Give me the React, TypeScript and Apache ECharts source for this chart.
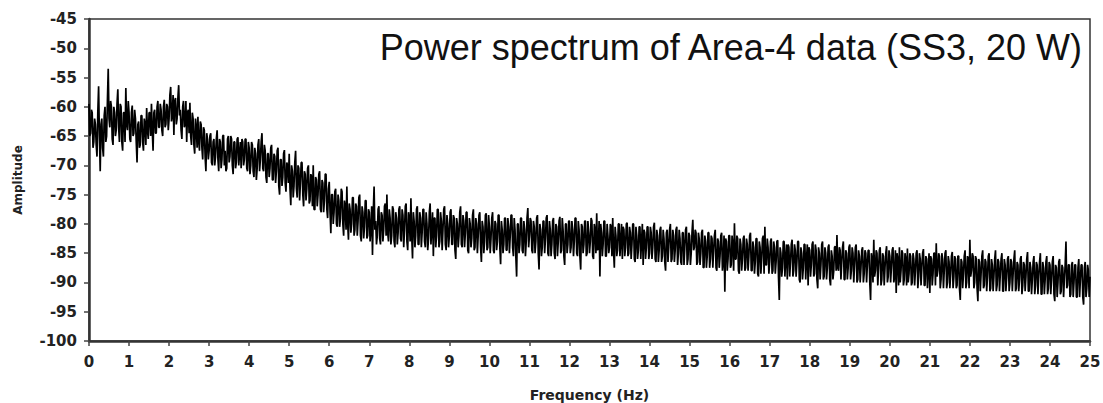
import React, { useEffect, useRef } from "react";
import * as echarts from "echarts";

const amp00to05 = [
  -59.5,-65,-64.5,-60.5,-61,-67,-66,-62,-63,-66.5,-68.5,-61,-56.5,-65,-71,-63,-62,-67,-68.5,-61.5,-60,-66,-65,-59,-53.5,-62,-63.5,-59,-60,-65.5,-66.5,-60,-61,-65,-64,-59.5,-57,-63.5,-66,-59.5,-60,-66,-67.5,-61,-61,-66,-56.8,-63,-64,-59,
  -61,-65.5,-66,-61,-59.8,-65,-64.5,-60.5,-62,-66,-69.5,-63,-62.5,-67,-66.5,-61.5,-61.5,-66,-67.5,-62,-63,-66.5,-60.2,-64,-65.5,-61,-61,-65,-59.5,-64,-67.5,-61,-60.5,-64.5,-64.5,-60,-59,-63.5,-63.5,-59.5,-60.5,-64,-65,-60,-58.8,-63.5,-63,-59.5,-60,-64,
  -62,-58,-56.6,-62.5,-61.5,-58,-64.8,-59,-58.5,-63,-62,-58.5,-56.3,-61.5,-60.5,-64,-65.5,-60,-59,-63.5,-63,-59,-66,-61,-60.5,-64.5,-59.3,-65,-66.5,-61,-62,-66.5,-68,-62,-63.5,-67,-61.7,-66,-67.5,-62.5,-63,-67,-69,-63.5,-64,-68.5,-71,-64.5,-65.5,-69,
  -67.5,-65,-64.5,-69.5,-70,-66,-65.5,-70,-68.5,-65.5,-64,-69,-71,-65.5,-66,-70.5,-69,-65,-64.8,-70,-67.5,-71,-70.5,-65.5,-65,-69.5,-68.5,-65,-65.5,-70,-71.5,-66,-66,-70.5,-69.5,-65.5,-65.2,-70,-68,-66,-70.5,-65.5,-66,-70,-69,-65.5,-65.5,-70.5,-71,-66,
  -67,-71.5,-70,-66,-66.5,-71,-72,-67,-68,-72.5,-70.5,-66.5,-65.5,-71,-69,-66,-64.5,-70.5,-71,-66.5,-67.5,-72,-73,-68,-68,-72,-70.5,-67,-66.5,-72.5,-72.5,-68,-68.5,-73,-71,-67.5,-67,-73.5,-75,-69,-69,-73.5,-72,-68,-67.4,-73,-74.5,-69.5,-70,-73,
];
const amp05to10 = [
  -68,-74,-76.8,-70,-71,-75.5,-73.5,-69.5,-67.5,-74,-75.5,-70,-70.5,-76,-73,-69.5,-69.5,-75,-77,-71,-71.5,-76,-74,-70.5,-70,-76.5,-76,-71.5,-72,-77,-70,-77.5,-77.6,-72,-72.5,-77,-75,-71.5,-71,-77.5,-78,-72.5,-73,-78,-76,-71.5,-71.5,-77.5,-79,-74,
  -72.8,-78,-81.6,-75,-75,-80,-78,-74.5,-74,-80,-80.5,-75,-76,-80.5,-79,-74,-74.5,-80,-82,-76,-77,-81,-73.6,-80,-82.7,-76.5,-77.5,-81.5,-80,-75.5,-75.5,-82,-81,-76.5,-77,-82,-79.5,-75.5,-75,-82,-83,-77,-78,-82.5,-80.5,-76,-76,-82.5,-82,-77.5,
  -78,-83,-81,-77,-85.3,-78,-73.6,-81,-79.5,-83.5,-82,-77.5,-77,-82.5,-83.5,-78,-78.5,-83,-81,-77,-76.5,-82,-75,-81.5,-83,-77.5,-79,-83.5,-82,-77,-77.5,-83,-84,-78,-79,-83.5,-81.5,-77.5,-77,-82.5,-83,-77.5,-78.5,-84,-81,-77,-76.5,-83,-84.5,-78,
  -79,-83,-75.6,-82,-85.9,-78,-79.5,-84,-82,-77.5,-77,-83.5,-83.5,-78,-79,-84,-81.5,-77.5,-77.5,-83,-84,-78,-80,-84.5,-82.5,-78,-76.5,-83.5,-81,-78,-85.5,-79,-79,-84,-82,-77.5,-77.5,-84,-83,-78,-79.5,-84.5,-81,-77.5,-77,-83.5,-84.5,-78.5,-80,-84,
  -82,-78,-77.5,-83.5,-83.5,-78.5,-79,-84.5,-86,-79,-80,-84,-82,-78,-77,-83.5,-84,-78.5,-79.5,-84,-81.5,-78,-78,-84.5,-85,-79,-80,-84,-82.5,-78.5,-77.5,-84.5,-84,-79,-80,-85,-82,-78.5,-78,-84,-86.5,-79.5,-80.5,-85,-83,-78.5,-78.2,-84.5,-84,-78.5,
];
const amp10to15 = [
  -80.5,-85,-82.5,-79,-78,-84.5,-85,-79.5,-80,-84.5,-83,-78.5,-78.5,-84,-86.9,-79.5,-81,-85,-83.5,-79,-79,-84.5,-84.5,-79,-80.5,-85,-82,-78.5,-78.5,-84,-85.5,-79,-81,-85.5,-89,-80,-80,-85,-83.5,-79,-79,-84.5,-85,-79.5,-81,-85.5,-83,-79,-77.3,-84,
  -82,-79,-79.5,-84.5,-85,-79.5,-80.5,-85,-83,-79,-78.5,-85,-87.8,-80,-81,-85.5,-84,-79.5,-79.5,-85,-82.5,-79,-78.5,-85,-85.5,-79.5,-81,-85.5,-83.5,-79.5,-79,-85,-86,-80,-80.5,-85.5,-83,-79.5,-78.8,-85,-84.5,-79,-81,-85.5,-87,-80,-80,-85,-83.5,-79.5,
  -79.5,-85,-84,-79.5,-81,-85.5,-83,-79,-79,-85,-85.5,-79.5,-81,-85.5,-87.8,-80,-80.5,-85,-83.5,-79.5,-79.5,-85.5,-85,-79.5,-81.5,-85,-83,-79,-79.5,-85.5,-86,-80,-81,-85,-78.2,-84.5,-84,-79.5,-89,-80,-81.5,-85.5,-83.5,-79.5,-79.5,-85.5,-85.5,-80,-82,-85,
  -84,-80,-80.5,-85.5,-79,-84.5,-87.5,-80.5,-82,-85.5,-84.5,-80,-80,-85.5,-83,-80,-86,-80.5,-81,-85.5,-84,-80,-79.8,-85.5,-85,-80.5,-81.5,-86,-83.5,-80,-80,-86,-86.5,-80.5,-82,-86,-84.5,-80.5,-80.5,-86,-83,-80,-87,-81,-81.5,-86,-84,-80.5,-80.5,-86,
  -85,-80.5,-81.5,-86,-84,-80.5,-79.8,-86,-86.5,-81,-82,-86.5,-84.5,-81,-80.5,-86.5,-85.5,-81,-82.5,-86.5,-88,-81.5,-81,-86.5,-84,-81,-80,-86.5,-86,-81,-82,-86.5,-84.5,-81,-80.5,-87,-85,-81,-82.5,-86.5,-87,-81.5,-81.5,-87,-84,-81,-80.5,-87,-86,-81.5,
];
const amp15to20 = [
  -82,-87,-85,-81.5,-79.3,-84.5,-84,-81,-81.5,-87,-86.5,-81.5,-82.5,-87,-85,-81.5,-81,-87.5,-87.4,-82,-83,-87.5,-85.5,-81.5,-81.5,-87.5,-86,-82,-82.5,-87.5,-84.5,-82,-81,-87.5,-88,-82.5,-83,-87.5,-85.5,-82,-81.5,-88,-86.5,-82,-91.6,-82.5,-83,-88,-86,-82,
  -82,-87.5,-87,-82,-83.5,-88,-79.9,-86,-86,-82,-82.5,-88,-88.5,-82.5,-83.5,-88,-86,-82.5,-82,-88,-87.5,-82.5,-83.5,-88,-85.5,-82,-81.5,-88,-88,-83,-84,-88.5,-86.5,-82.5,-82.5,-88.5,-89,-83,-84,-88.5,-86,-82.5,-82,-88.5,-80.5,-87,-87,-82.5,-84,-88.5,
  -86.5,-83,-82.5,-88.5,-88,-83,-84,-88.5,-86.5,-83,-82.8,-89,-93,-84,-85,-89,-87.5,-83,-83,-89,-86,-83.5,-89.5,-83.5,-84,-89,-86.5,-83.5,-82.7,-89,-88,-83.5,-84.5,-89,-86.5,-83,-83,-89.5,-90,-84,-85,-89.5,-87.5,-83.5,-83.5,-89.5,-86,-83.5,-90.5,-84,
  -84.5,-89,-87,-83.5,-83,-89,-88.5,-83.5,-84.5,-89.5,-91,-84,-85,-89.5,-87,-83.5,-83,-89.5,-89,-84,-85,-89.5,-87.5,-84,-83.5,-89.5,-90.5,-84.5,-85.5,-89.5,-88,-84,-83.8,-88,-81.9,-87.5,-88,-84,-84.5,-89.5,-86.5,-84,-83,-89.5,-89.5,-84.5,-85,-89.5,-87.5,-84,
  -83.5,-89.5,-88,-84,-85,-90,-87,-84,-83.5,-90,-89.5,-84.5,-85.5,-90,-87.5,-84.5,-84,-90,-88.5,-84.5,-85,-90,-87,-84.5,-84.5,-90,-93,-85,-86,-90,-82.7,-89,-88,-84.5,-85,-90.5,-87.5,-84.5,-84,-90.5,-89.5,-85,-85.5,-90.5,-87.5,-85,-83.8,-90,-89,-84.5,
];
const amp20to25 = [
  -85.5,-90,-87.5,-84.5,-84,-90,-89,-84.5,-91.8,-85,-86,-90.5,-84,-90,-88,-84.5,-85,-90.5,-89.5,-85,-86,-90.5,-84.2,-90,-88.5,-85,-85.5,-90.5,-90,-85,-86,-90.5,-88,-85,-84.5,-91,-89,-85,-86,-90.5,-87.5,-85,-84.3,-90.5,-90.5,-85.5,-86,-91,-88,-85,
  -91.8,-85.5,-86,-90.5,-88.5,-85,-85,-90.5,-83.3,-89,-88,-85,-85.5,-91,-89.5,-85,-86,-91,-88,-85,-84.5,-91,-90,-85.5,-86.5,-91,-88.5,-85.5,-84.8,-91,-89,-85.5,-86,-91,-90.5,-85.5,-85.5,-91,-93,-86,-86.5,-91,-88.5,-85.5,-84.5,-91,-90,-85.5,-86,-91,
  -82.7,-89,-88,-85,-85.5,-91,-90,-85.5,-86,-91,-93.2,-86,-86.5,-91.5,-88.5,-85.5,-84.5,-91,-90.5,-86,-86.5,-91.5,-89,-85.5,-85,-91.5,-91,-86,-87,-91.5,-89,-86,-84.5,-91.5,-90.5,-86,-86.5,-91.5,-88.5,-86,-85,-91.5,-91.5,-86,-87,-91.5,-89,-86,-85.5,-91.5,
  -90,-86,-86.5,-91.5,-88.5,-86,-84.5,-91.5,-91,-86.5,-87,-91.5,-89.5,-86,-85.5,-92,-90.5,-86.5,-87,-91.5,-89,-86,-84.8,-91.5,-91.5,-86.5,-87.5,-92,-89.5,-86.5,-85.5,-92,-90.5,-86.5,-87,-92,-89,-86.5,-85,-92,-92,-86.5,-87.5,-92,-89.5,-86.5,-85.5,-92,-91,-86.5,
  -87,-92,-89.5,-86.5,-85.5,-92,-93.2,-87,-87.5,-92.5,-90,-86.5,-86,-92,-91.5,-87,-87.5,-92.5,-89.5,-87,-83,-91,-90.5,-87,-87,-92.5,-92,-87,-86.5,-92.5,-90,-87,-87,-92.5,-92.5,-87.5,-86,-92.5,-89.5,-87,-87,-92.5,-93.8,-87.5,-86.5,-92.5,-91,-87,-88,-92.5,
  -89,
];

const FREQ_MAX = 25;
const xTicks = [0, 25, 1]; // min, max, interval (Hz)
const yTicks = [-100, -45, 5]; // min, max, interval (dB)
const titleText = "Power spectrum of Area-4 data (SS3, 20 W)";

export default function App() {
  const ref = useRef<HTMLDivElement>(null);
  useEffect(() => {
    if (!ref.current) return;
    const chart = echarts.init(ref.current, null, { renderer: "svg" });
    const amps = [...amp00to05, ...amp05to10, ...amp10to15, ...amp15to20, ...amp20to25];
    const step = FREQ_MAX / (amps.length - 1);
    const data = amps.map((v, i) => [i * step, v]);
    const labelStyle = {
      color: "#222",
      fontFamily: "DejaVu Sans",
      fontWeight: "bold" as const,
      fontSize: 15,
    };
    chart.setOption({
      animation: false,
      backgroundColor: "#fff",
      grid: {
        left: 89,
        right: 13,
        top: 19,
        bottom: 62,
        show: true,
        borderColor: "#333",
        borderWidth: 1.5,
        outerBoundsMode: "none",
        containLabel: false,
      },
      xAxis: {
        type: "value",
        min: xTicks[0],
        max: xTicks[1],
        interval: xTicks[2],
        name: "Frequency (Hz)",
        nameLocation: "middle",
        nameGap: 47,
        nameTextStyle: { ...labelStyle, fontSize: 14 },
        axisLine: { lineStyle: { color: "#333", width: 2.5 } },
        axisTick: { length: 5, lineStyle: { color: "#444", width: 1.5 } },
        axisLabel: { ...labelStyle, margin: 13 },
        splitLine: { show: false },
      },
      yAxis: {
        type: "value",
        min: yTicks[0],
        max: yTicks[1],
        interval: yTicks[2],
        name: "Amplitude",
        nameLocation: "middle",
        nameGap: 65,
        nameRotate: 90,
        nameTextStyle: { ...labelStyle, fontSize: 12 },
        axisLine: { show: true, lineStyle: { color: "#333", width: 2.5 } },
        axisTick: { show: true, length: 5, lineStyle: { color: "#444", width: 1.5 } },
        axisLabel: { ...labelStyle, margin: 12 },
        splitLine: { show: false },
      },
      graphic: [
        {
          type: "text",
          x: 1082,
          y: 47,
          style: {
            text: titleText,
            fill: "#111",
            fontFamily: "Liberation Sans",
            fontSize: 36,
            textAlign: "right",
            textVerticalAlign: "middle",
          },
        },
      ],
      series: [
        {
          type: "line",
          data,
          showSymbol: false,
          symbol: "none",
          lineStyle: { color: "#000", width: 1.7 },
        },
      ],
    });
    return () => chart.dispose();
  }, []);
  return (
    <div
      ref={ref}
      style={{ position: "absolute", left: 0, top: 0, width: 1103, height: 403 }}
    />
  );
}
